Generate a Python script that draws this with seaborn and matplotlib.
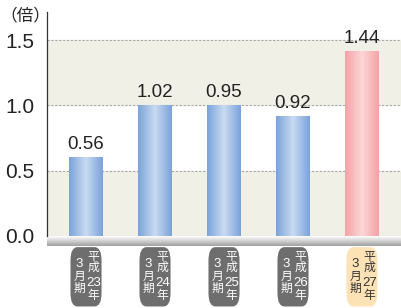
import numpy as np
import pandas as pd
import seaborn as sns
import matplotlib.pyplot as plt
from matplotlib.patches import FancyBboxPatch
from matplotlib.colors import LinearSegmentedColormap
import matplotlib.transforms as mtransforms

# data
periods = ['平成23年', '平成24年', '平成25年', '平成26年', '平成27年']
labels = ['0.56', '1.02', '0.95', '0.92', '1.44']
heights = [0.60, 1.00, 1.00, 0.915, 1.415]   # bar tops as drawn
yticks = [0.0, 0.5, 1.0, 1.5]
unit = '（倍）'

sns.set_style('white')
plt.rcParams['font.family'] = ['Liberation Sans', 'Noto Sans CJK JP', 'DejaVu Sans']

df = pd.DataFrame({'period': periods, 'value': heights})

fig = plt.figure(figsize=(4.02, 3.08), dpi=100)
ax = fig.add_axes([0.117, 0.234, 0.883, 0.727])

ax1 = sns.barplot(data=df, x='period', y='value', color='#8fb0e0', width=0.48, ax=ax)
bars = list(ax1.patches)

# background bands
beige = '#f1f0e7'
ax1.axhspan(0, 0.5, color=beige, zorder=0)
ax1.axhspan(1.0, 1.5, color=beige, zorder=0)
for y in yticks:
    ax1.axhline(y, color='#a8a8a8', lw=0.8, ls=(0, (2, 1.5)), zorder=1)

# gradient bars
blue = LinearSegmentedColormap.from_list('b', ['#7ba3da', '#c9dbf2', '#7ba3da'])
pink = LinearSegmentedColormap.from_list('p', ['#f5a3a7', '#fcd6d6', '#f5a3a7'])
grad = np.linspace(0, 1, 64).reshape(1, -1)
for i, p in enumerate(bars):
    x0, w, h = p.get_x(), p.get_width(), p.get_height()
    p.set_visible(False)
    cmap = pink if i == len(periods) - 1 else blue
    ax1.imshow(grad, cmap=cmap, extent=[x0, x0 + w, 0, h], aspect='auto', zorder=2)
    ax1.text(x0 + w / 2, h + 0.035, labels[i], ha='center', va='bottom',
             fontsize=13.5, color='#222222', zorder=3)

# shadow under the baseline
shade = LinearSegmentedColormap.from_list('s', ['#ffffff', '#a0a0a0'])
ax1.imshow(np.linspace(0, 1, 32).reshape(-1, 1), cmap=shade,
           extent=[-0.565, 4.58, -0.075, 0], aspect='auto', clip_on=False, zorder=1)
ax1.set_xlim(-0.565, 4.58)
ax1.set_ylim(0, 1.715)

# period boxes with vertical text
trans = mtransforms.blended_transform_factory(ax1.transData, ax1.transAxes)
right_y = [-0.094, -0.143, -0.21, -0.268]
left_y = [-0.127, -0.183, -0.237]
for i, name in enumerate(periods):
    last = i == len(periods) - 1
    fc = '#fde2b6' if last else '#6e6e6e'
    tc = '#333333' if last else 'white'
    box = FancyBboxPatch((i - 0.225, -0.315), 0.45, 0.265,
                         boxstyle='round,pad=0,rounding_size=0.1',
                         mutation_aspect=0.6,
                         transform=trans, fc=fc, ec='none', clip_on=False)
    ax1.add_patch(box)
    for ch, yy in zip(['平', '成', name[2:4], '年'], right_y):
        digits = ch.isdigit()
        ax1.text(i + 0.11, yy, ch, transform=trans, ha='center', va='center',
                 fontsize=9.5 if digits else 8.5, color=tc,
                 fontstretch='condensed')
    for ch, yy in zip(['3', '月', '期'], left_y):
        ax1.text(i - 0.095, yy, ch, transform=trans, ha='center', va='center',
                 fontsize=9.5 if ch.isdigit() else 8.5, color=tc)

ax1.set_yticks(yticks)
ax1.set_yticklabels([f'{t:.1f}' for t in yticks], fontsize=15, color='#222222')
ax1.tick_params(axis='y', length=0, pad=9)
ax1.set_xticks([])
ax1.set_xlabel('')
ax1.set_ylabel('')
for s in ['top', 'right', 'bottom']:
    ax1.spines[s].set_visible(False)
ax1.spines['left'].set_color('#333333')
ax1.spines['left'].set_linewidth(0.9)

fig.text(0.0, 0.975, unit, fontsize=12, color='#222222', va='top', ha='left')

fig.savefig('out.png', dpi=100)
